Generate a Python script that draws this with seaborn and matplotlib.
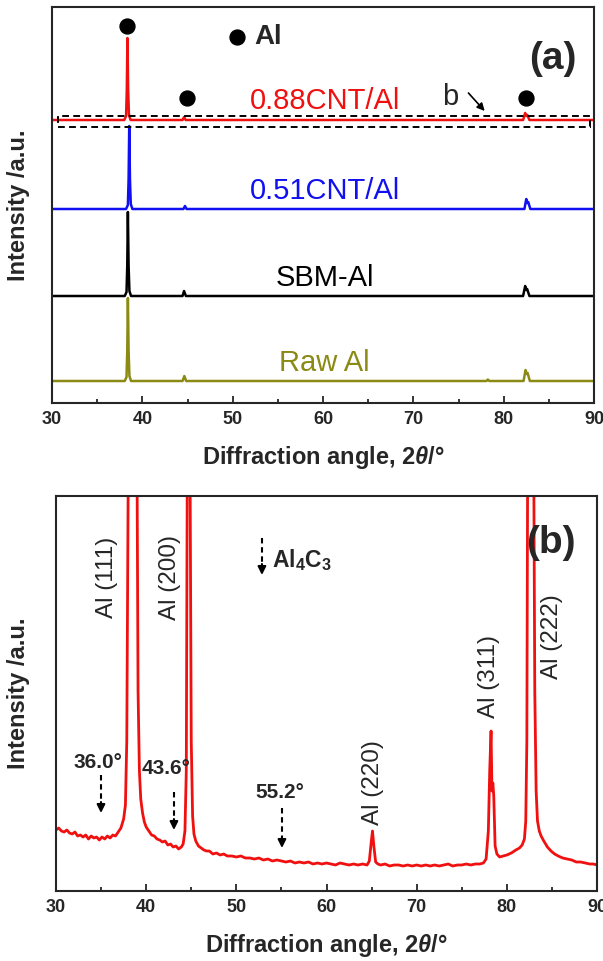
import matplotlib
matplotlib.use("Agg")
import matplotlib.pyplot as plt
from matplotlib.patches import Rectangle
from matplotlib.ticker import MultipleLocator
import seaborn as sns
import pandas as pd

# ---------------- data: panel (a) ----------------
series_names = ["0.88CNT/Al", "0.51CNT/Al", "SBM-Al", "Raw Al"]
series_colors = ["#f01010", "#1010f0", "#000000", "#8a8a14"]
series_offsets = [283, 194, 107, 22]

x_088 = [30, 38.0, 38.2, 38.28, 38.35, 38.43, 38.52, 38.7, 44.45, 44.62, 44.8,
         82.15, 82.38, 82.5, 82.62, 82.85, 90]
y_088 = [0, 0, 4, 30, 82, 30, 5, 0, 0, 3, 0,
         0, 7, 4, 5, 0, 0]

x_051 = [30, 38.2, 38.4, 38.48, 38.55, 38.63, 38.72, 38.9, 44.55, 44.72, 44.9,
         82.3, 82.5, 82.62, 82.72, 82.95, 90]
y_051 = [0, 0, 4, 30, 83, 30, 5, 0, 0, 3, 0,
         0, 10, 6, 7, 0, 0]

x_sbm = [30, 38.05, 38.25, 38.33, 38.4, 38.48, 38.57, 38.75, 44.45, 44.62, 44.82,
         82.15, 82.38, 82.5, 82.6, 82.85, 90]
y_sbm = [0, 0, 4, 30, 84, 30, 5, 0, 0, 5, 0,
         0, 10, 6, 7, 0, 0]

x_raw = [30, 38.05, 38.25, 38.33, 38.4, 38.48, 38.57, 38.75, 44.45, 44.65, 44.85,
         78.1, 78.25, 78.4, 82.2, 82.42, 82.55, 82.65, 82.9, 90]
y_raw = [0, 0, 4, 30, 83, 30, 5, 0, 0, 5, 0,
         0, 1.5, 0, 0, 11, 7, 8, 0, 0]

# ---------------- data: panel (b) ----------------
x_b = [30.0, 30.3, 30.6, 30.9, 31.2, 31.5, 31.8, 32.1, 32.4, 32.7, 33.0, 33.3, 33.6,
       33.9, 34.2, 34.5, 34.8, 35.1, 35.4, 35.7, 36.0, 36.3, 36.6, 36.9, 37.2, 37.5,
       37.7, 37.85, 38.0, 38.2, 38.47, 38.75, 39.0, 39.1, 39.25, 39.4, 39.6, 39.8,
       40.0, 40.3, 40.6, 40.9, 41.2, 41.5, 41.8, 42.1, 42.4, 42.7, 43.0, 43.3, 43.6,
       43.9, 44.1, 44.3, 44.45, 44.55, 44.72, 44.88, 45.0, 45.15, 45.3, 45.5, 45.8,
       46.1, 46.4, 46.7, 47.0, 47.4, 47.8, 48.2, 48.6, 49.0, 49.5, 50.0, 50.5, 51.0,
       51.5, 52.0, 52.5, 53.0, 53.5, 54.0, 54.5, 55.0, 55.5, 56.0, 56.5, 57.0, 57.5,
       58.0, 58.5, 59.0, 59.5, 60.0, 60.5, 61.0, 61.5, 62.0, 62.5, 63.0, 63.5, 64.0,
       64.5, 64.75, 64.95, 65.1, 65.25, 65.45, 65.7, 66.0, 66.5, 67.0, 67.5, 68.0,
       68.5, 69.0, 69.5, 70.0, 70.5, 71.0, 71.5, 72.0, 72.5, 73.0, 73.5, 74.0, 74.5,
       75.0, 75.5, 76.0, 76.5, 77.0, 77.4, 77.7, 77.95, 78.1, 78.25, 78.35, 78.45,
       78.55, 78.7, 78.9, 79.2, 79.6, 80.0, 80.5, 81.0, 81.4, 81.7, 81.95, 82.1,
       82.22, 82.3, 82.45, 82.65, 82.85, 83.0, 83.1, 83.25, 83.4, 83.6, 83.8, 84.1,
       84.5, 84.9, 85.3, 85.7, 86.2, 86.7, 87.2, 87.7, 88.2, 88.7, 89.2, 89.6, 90.0]
y_b = [61, 63, 60, 59, 61, 58, 57, 59, 55, 56, 54, 56, 52,
       55, 53, 54, 51, 54, 52, 55, 53, 56, 55, 59, 63, 72,
       86, 150, 400, 1100, 2000, 1100, 400, 200, 120, 92, 78, 69,
       64, 60, 56, 55, 52, 51, 49, 50, 46, 47, 44, 45, 42,
       44, 47, 60, 120, 400, 1200, 400, 150, 75, 57, 50, 45,
       43, 41, 40, 40, 37, 38, 36, 37, 35, 35, 34, 35, 33,
       33, 32, 33, 31, 32, 30, 31, 30, 29, 30, 28, 29, 28,
       29, 27, 28, 27, 28, 27, 26, 28, 27, 26, 27, 26, 27,
       26, 30, 48, 60, 45, 29, 27, 26, 27, 25, 26, 26,
       25, 26, 25, 26, 25, 26, 25, 26, 25, 26, 27, 25, 26,
       26, 27, 26, 27, 27, 28, 32, 60, 120, 160, 100, 108,
       95, 45, 37, 34, 35, 36, 38, 41, 43, 46, 52, 70,
       150, 400, 1600, 1200, 600, 400, 200, 100, 70, 60, 55, 50,
       44, 40, 37, 35, 33, 32, 31, 29, 29, 28, 27, 27, 26]

peak_labels = ["Al (111)", "Al (200)", "Al (220)", "Al (311)", "Al (222)"]
shift_labels = ["36.0°", "43.6°", "55.2°"]
x_ticks = [30, 40, 50, 60, 70, 80, 90]

# ---------------- style ----------------
sns.set_style("ticks")
plt.rcParams["font.family"] = ["Liberation Sans", "DejaVu Sans"]
plt.rcParams["mathtext.fontset"] = "custom"
plt.rcParams["mathtext.rm"] = "Liberation Sans:bold"
plt.rcParams["mathtext.it"] = "Liberation Sans:bold:italic"
plt.rcParams["mathtext.bf"] = "Liberation Sans:bold"
plt.rcParams["axes.linewidth"] = 1.5

W, H = 603, 961
fig = plt.figure(figsize=(W / 100, H / 100), dpi=100)

def make_ax(left, right, top, bottom):
    return fig.add_axes([left / W, 1 - bottom / H, (right - left) / W, (bottom - top) / H])

ax_a = make_ax(52, 594, 7, 403)
ax_b = make_ax(56, 597, 496, 891)

xlabel = r"Diffraction angle, 2$\theta$/°"

def style_axis(ax):
    ax.set_xlim(30, 90)
    ax.set_xticks(x_ticks)
    ax.xaxis.set_minor_locator(MultipleLocator(5))
    ax.set_yticks([])
    ax.tick_params(axis="x", which="major", direction="in", length=5, width=1.3,
                   labelsize=13, pad=6, top=False)
    ax.tick_params(axis="x", which="minor", direction="in", length=3, width=1.3, top=False)
    for lab in ax.get_xticklabels():
        lab.set_fontweight("bold")
    for sp in ax.spines.values():
        sp.set_visible(True)
        sp.set_linewidth(1.5)
    ax.set_xlabel(xlabel, fontsize=17, fontweight="bold", labelpad=11)
    ax.set_ylabel("Intensity /a.u.", fontsize=17, fontweight="bold")

# ---------------- panel (a) ----------------
series_x = [x_088, x_051, x_sbm, x_raw]
series_y = [y_088, y_051, y_sbm, y_raw]
for name, col, off, xs, ys in zip(series_names, series_colors, series_offsets, series_x, series_y):
    df = pd.DataFrame({"angle": xs, "intensity": [v + off for v in ys]})
    sns.lineplot(data=df, x="angle", y="intensity", ax=ax_a, color=col, lw=1.8,
                 estimator=None, sort=False)
ax_a.set_ylim(0, 396)
style_axis(ax_a)
ax_a.yaxis.set_label_coords(-22 / 542, 0.5)

label_y = [302, 212, 125, 40]
for name, col, ly in zip(series_names, series_colors, label_y):
    ax_a.text(60.2, ly, name, color=col, fontsize=21, ha="center", va="center")

# Al markers
ax_a.scatter([38.3, 44.95, 82.5, 50.5], [377, 305, 305, 366], s=115, color="black", zorder=5)
ax_a.text(52.4, 366, "Al", fontsize=20, fontweight="bold", ha="left", va="center")
ax_a.text(85.4, 344, "(a)", fontsize=28, fontweight="bold", ha="center", va="center")
ax_a.add_patch(Rectangle((30.66, 276), 89.6 - 30.66, 11, fill=False, ls=(0, (3.5, 2.2)),
                         lw=1.4, color="black", zorder=6))
ax_a.text(74.1, 306, "b", fontsize=21, ha="center", va="center")
ax_a.annotate("", xy=(77.9, 292), xytext=(76.1, 310),
              arrowprops=dict(arrowstyle="-|>", color="black", lw=1.2, mutation_scale=11,
                              shrinkA=0, shrinkB=0))

# ---------------- panel (b) ----------------
dfb = pd.DataFrame({"angle": x_b, "intensity": y_b})
sns.lineplot(data=dfb, x="angle", y="intensity", ax=ax_b, color="#f01010", lw=2.0,
             estimator=None, sort=False)
ax_b.set_ylim(0, 395)
style_axis(ax_b)
ax_b.yaxis.set_label_coords(-26 / 541, 0.5)

peak_pos = [(35.65, 314), (42.64, 314), (65.14, 108), (78.0, 215), (85.0, 254)]
for lab, (px, py) in zip(peak_labels, peak_pos):
    ax_b.text(px, py, lab, fontsize=17.5, rotation=90, ha="center", va="center")

ax_b.text(84.9, 348, "(b)", fontsize=28, fontweight="bold", ha="center", va="center")


def dashed_arrow(ax, x, ytop, ytip, head=11):
    ax.plot([x, x], [ytop, ytip + head], ls=(0, (2.6, 1.8)), color="black", lw=1.5)
    ax.annotate("", xy=(x, ytip), xytext=(x, ytip + head),
                arrowprops=dict(arrowstyle="-|>", color="black", lw=1.5, mutation_scale=12,
                                shrinkA=0, shrinkB=0))


dashed_arrow(ax_b, 52.84, 353, 316)
ax_b.text(53.95, 331, r"$\mathbf{Al_4C_3}$", fontsize=16.5, ha="left", va="center")

shift_text_pos = [(34.7, 128), (42.2, 123), (54.83, 98)]
shift_arrows = [(34.99, 116, 78), (43.08, 99, 61), (55.06, 83, 43)]
for lab, (tx, ty), (ax_x, y0, y1) in zip(shift_labels, shift_text_pos, shift_arrows):
    ax_b.text(tx, ty, lab, fontsize=15, fontweight="bold", ha="center", va="center")
    dashed_arrow(ax_b, ax_x, y0, y1)

fig.savefig("out.png", dpi=100)
